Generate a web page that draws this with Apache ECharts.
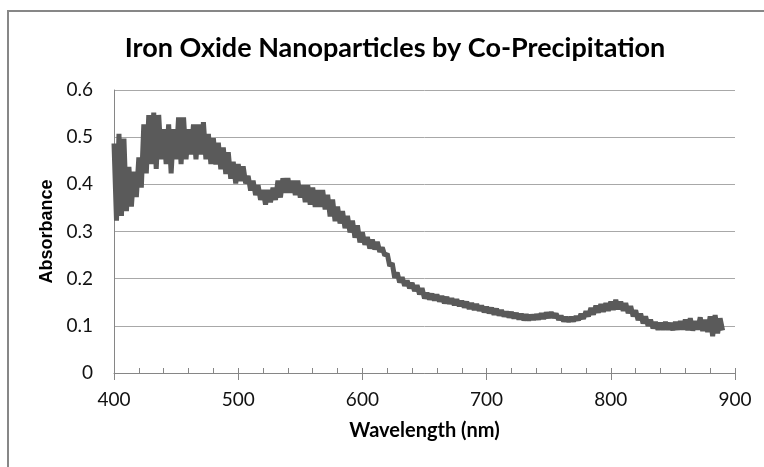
<!DOCTYPE html>
<html>
<head>
<meta charset="utf-8">
<script src="https://cdn.jsdelivr.net/npm/echarts@6/dist/echarts.min.js"></script>
<style>
  html, body { margin: 0; padding: 0; background: #fff; }
  #main { width: 764px; height: 467px; }
</style>
</head>
<body>
<div id="main"></div>
<script>
// spectrum sampled every 2 nm from 400 nm
var startNm = 400;
var stepNm = 2;
var absorbance = [
  0.487, 0.323, 0.507, 0.333, 0.497, 0.343, 0.437, 0.353, 0.427, 0.373,
  0.457, 0.393, 0.527, 0.423, 0.547, 0.443, 0.552, 0.433, 0.547, 0.453,
  0.517, 0.443, 0.527, 0.423, 0.517, 0.453, 0.542, 0.443, 0.542, 0.453,
  0.517, 0.463, 0.527, 0.453, 0.527, 0.463, 0.532, 0.453, 0.507, 0.443,
  0.498, 0.442, 0.488, 0.432, 0.478, 0.422, 0.468, 0.412, 0.448, 0.402,
  0.443, 0.407, 0.438, 0.402, 0.418, 0.387, 0.408, 0.377, 0.398, 0.367,
  0.388, 0.357, 0.388, 0.362, 0.393, 0.367, 0.408, 0.372, 0.413, 0.382,
  0.413, 0.382, 0.408, 0.377, 0.408, 0.372, 0.398, 0.362, 0.398, 0.357,
  0.393, 0.352, 0.388, 0.352, 0.388, 0.347, 0.378, 0.332, 0.368, 0.322,
  0.353, 0.317, 0.343, 0.307, 0.333, 0.298, 0.323, 0.287, 0.313, 0.277,
  0.298, 0.272, 0.288, 0.264, 0.283, 0.262, 0.278, 0.257, 0.266, 0.249,
  0.253, 0.227, 0.233, 0.202, 0.213, 0.192, 0.203, 0.185, 0.196, 0.180,
  0.191, 0.174, 0.186, 0.167, 0.180, 0.158, 0.170, 0.156, 0.168, 0.154,
  0.166, 0.152, 0.163, 0.148, 0.161, 0.147, 0.158, 0.144, 0.156, 0.142,
  0.153, 0.139, 0.151, 0.136, 0.148, 0.134, 0.146, 0.132, 0.143, 0.129,
  0.140, 0.127, 0.138, 0.124, 0.136, 0.122, 0.133, 0.120, 0.130, 0.118,
  0.129, 0.116, 0.127, 0.114, 0.125, 0.112, 0.124, 0.112, 0.123, 0.113,
  0.124, 0.114, 0.126, 0.115, 0.128, 0.117, 0.129, 0.117, 0.126, 0.113,
  0.121, 0.110, 0.118, 0.109, 0.118, 0.110, 0.120, 0.112, 0.125, 0.115,
  0.131, 0.120, 0.138, 0.124, 0.143, 0.128, 0.146, 0.130, 0.148, 0.132,
  0.151, 0.134, 0.155, 0.135, 0.151, 0.132, 0.148, 0.127, 0.142, 0.120,
  0.133, 0.112, 0.126, 0.105, 0.120, 0.100, 0.113, 0.095, 0.108, 0.092,
  0.106, 0.092, 0.108, 0.092, 0.106, 0.091, 0.108, 0.092, 0.110, 0.092,
  0.113, 0.091, 0.116, 0.090, 0.110, 0.092, 0.118, 0.089, 0.113, 0.087,
  0.120, 0.078, 0.123, 0.084, 0.116, 0.090
];
var xTicks = [400, 500, 600, 700, 800, 900];
var yTicks = [0, 0.1, 0.2, 0.3, 0.4, 0.5, 0.6];

var points = absorbance.map(function (v, i) {
  return [startNm + i * stepNm, v];
});

var myChart = echarts.init(document.getElementById("main"));

var option = {
  animation: false,
  backgroundColor: "#fff",
  title: {
    text: "Iron Oxide Nanoparticles by Co-Precipitation",
    left: 390,
    top: 30,
    textAlign: "center",
    textStyle: { fontFamily: "Lato", fontWeight: "bold", fontSize: 27, color: "#000" }
  },
  graphic: [
    {
      type: "rect",
      silent: true,
      shape: { x: 8, y: 11, width: 800, height: 500 },
      style: { fill: "none", stroke: "#878787", lineWidth: 2 }
    }
  ],
  grid: { left: 114, right: 29, top: 90, bottom: 94, containLabel: false, outerBoundsMode: "none" },
  xAxis: [
    {
      type: "value",
      min: xTicks[0],
      max: xTicks[xTicks.length - 1],
      interval: 100,
      name: "Wavelength (nm)",
      nameLocation: "middle",
      nameGap: 48,
      nameTextStyle: { fontFamily: "Lato", fontWeight: "bold", fontSize: 20, color: "#000" },
      axisLine: { lineStyle: { color: "#868686", width: 1 } },
      axisTick: { show: true, length: 7, lineStyle: { color: "#868686" } },
      axisLabel: { fontFamily: "Lato", fontSize: 19, color: "#111", margin: 17 },
      splitLine: { show: false }
    },
    {
      type: "value",
      min: xTicks[0],
      max: xTicks[xTicks.length - 1],
      interval: 20,
      position: "bottom",
      axisLine: { show: false },
      axisTick: { show: true, inside: true, length: 5, lineStyle: { color: "#868686" } },
      axisLabel: { show: false },
      splitLine: { show: false }
    }
  ],
  yAxis: {
    type: "value",
    min: yTicks[0],
    max: yTicks[yTicks.length - 1],
    interval: 0.1,
    name: "Absorbance",
    nameLocation: "middle",
    nameRotate: 90,
    nameGap: 53,
    nameTextStyle: { fontFamily: "Liberation Sans", fontWeight: "bold", fontSize: 18, color: "#000" },
    axisLine: { show: true, lineStyle: { color: "#868686", width: 1 } },
    axisTick: { show: false },
    axisLabel: { fontFamily: "Lato", fontSize: 19, color: "#111", margin: 21 },
    splitLine: { show: true, lineStyle: { color: "#a8a8a8", width: 1 } }
  },
  series: [
    {
      type: "line",
      xAxisIndex: 0,
      data: points,
      showSymbol: false,
      sampling: null,
      lineStyle: { color: "#5a5a5a", width: 5 },
      itemStyle: { color: "#5a5a5a" }
    }
  ]
};

myChart.setOption(option);
</script>
</body>
</html>
